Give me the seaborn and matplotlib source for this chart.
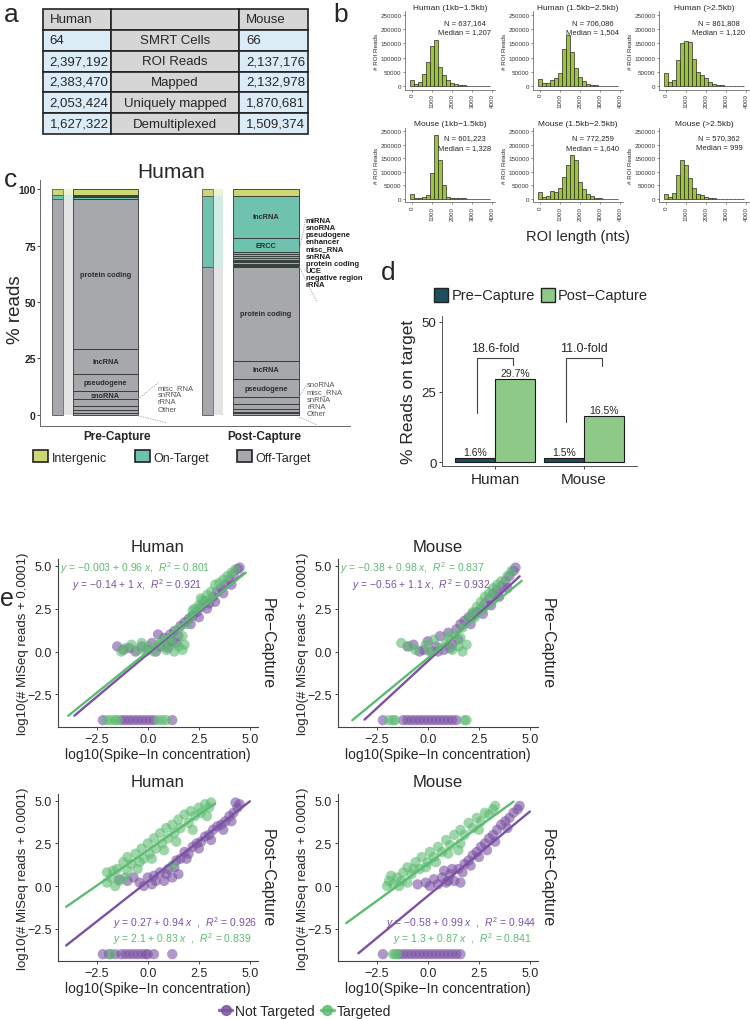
import matplotlib.pyplot as plt
import numpy as np
import pandas as pd
import seaborn as sns
from matplotlib.patches import Patch
from matplotlib.lines import Line2D

sns.set_theme(style="ticks")
plt.rcParams['font.family'] = ['Liberation Sans', 'DejaVu Sans']
plt.rcParams['mathtext.fontset'] = 'custom'
plt.rcParams['mathtext.it'] = 'Liberation Sans:italic'
plt.rcParams['mathtext.rm'] = 'Liberation Sans'

#### data

# a - summary table
tbl_steps = ["SMRT Cells", "ROI Reads", "Mapped", "Uniquely mapped", "Demultiplexed"]
tbl_human = ["64", "2,397,192", "2,383,470", "2,053,424", "1,627,322"]
tbl_mouse = ["66", "2,137,176", "2,132,978", "1,870,681", "1,509,374"]

# b - ROI length histograms (bin centres, counts)
roi_bins = [0, 200, 400, 600, 800, 1000, 1200, 1400, 1600, 1800,
            2000, 2200, 2400, 2600, 2800, 3000, 3200, 3400, 3600, 3800]
roi_titles = ["Human (1kb\u22121.5kb)", "Human (1.5kb\u22122.5kb)", "Human (>2.5kb)",
              "Mouse (1kb\u22121.5kb)", "Mouse (1.5kb\u22122.5kb)", "Mouse (>2.5kb)"]
roi_n = ["637,164", "706,086", "861,808", "601,223", "772,259", "570,362"]
roi_median = ["1,207", "1,504", "1,120", "1,328", "1,640", "999"]
roi_h1 = [20000, 6000, 15000, 42000, 85000, 142000, 163000, 66000, 40000, 22000,
          12000, 7000, 4000, 2500, 1500, 1000, 600, 400, 200, 100]
roi_h2 = [26000, 9000, 9000, 20000, 28000, 45000, 130000, 180000, 120000, 62000,
          30000, 16000, 8000, 4000, 2500, 1500, 800, 500, 300, 200]
roi_h3 = [46000, 15000, 22000, 90000, 152000, 160000, 155000, 95000, 48000, 40000,
          28000, 14000, 7000, 3500, 2000, 1200, 700, 400, 200, 100]
roi_m1 = [18000, 5000, 5000, 6000, 16000, 95000, 235000, 145000, 50000, 8000,
          3000, 2000, 2500, 2000, 1200, 700, 400, 200, 100, 50]
roi_m2 = [24000, 8000, 12000, 30000, 26000, 40000, 82000, 125000, 162000, 145000,
          62000, 35000, 20000, 10000, 5000, 2500, 1200, 600, 300, 200]
roi_m3 = [18000, 7000, 22000, 90000, 142000, 125000, 76000, 40000, 20000, 14000,
          8000, 5000, 3000, 1500, 800, 500, 300, 200, 100, 50]

# c - read composition, Human (% reads)
c_pre_thin = [95.7, 1.6, 2.7]      # off-target, on-target, intergenic
c_post_thin = [65.7, 31.3, 3.0]
c_pre_off_names = ["Other", "rRNA", "snRNA", "misc_RNA", "snoRNA", "pseudogene", "lncRNA", "protein coding"]
c_pre_off_vals = [0.9, 1.3, 1.9, 2.8, 3.6, 7.7, 10.8, 66.7]
c_pre_on_vals = [0.6, 0.5, 0.5]
c_post_off_names = ["Other", "rRNA", "snRNA", "misc_RNA", "snoRNA", "pseudogene", "lncRNA", "protein coding"]
c_post_off_vals = [0.8, 0.7, 1.2, 2.2, 2.9, 8.0, 8.2, 41.7]
c_post_on_names = ["rRNA", "negative region", "UCE", "protein coding", "snRNA", "misc_RNA",
                   "enhancer", "pseudogene", "snoRNA", "miRNA", "ERCC", "lncRNA"]
c_post_on_vals = [0.3, 0.4, 0.5, 0.7, 0.5, 0.6, 0.8, 0.9, 0.8, 0.8, 6.3, 18.7]

# d - reads on target
d_species = ["Human", "Mouse"]
d_pre = [1.6, 1.5]
d_post = [29.7, 16.5]
d_fold = ["18.6-fold", "11.0-fold"]
d_br_top = [37.1, 37.1]
d_br_left = [17.5, 14.3]
d_br_right = [34.6, 34.3]

# e - ERCC spike-ins (log10 conc, log10 reads + 0.0001)
hp_nt = [(-2.2, -4), (-1.3, -4), (-1.1, -4), (-0.9, -4), (-0.7, -4), (-0.5, -4), (-0.3, -4), (-0.1, -4),
         (0.1, -4), (0.3, -4), (1.2, -4),
         (-1.5, 0.3), (-1.2, 0.1), (-0.9, 0.2), (-0.6, 0.0), (-0.3, 0.3), (0.0, 0.1), (0.2, 0.5), (0.4, 0.0),
         (0.5, 1.0), (0.6, 0.3), (0.8, 0.8), (1.0, 0.2), (1.1, 1.0), (1.2, 0.6), (1.3, 1.2), (1.5, 0.9),
         (1.6, 1.5), (1.8, 1.7), (2.0, 1.9), (2.2, 2.1), (2.4, 2.3), (2.6, 2.6), (2.8, 2.9), (3.0, 2.8),
         (3.2, 3.2), (3.4, 3.5), (3.6, 3.7), (3.8, 3.9), (4.0, 4.2), (4.2, 4.5), (4.4, 4.8), (4.5, 4.9),
         (0.9, 0.4), (1.4, 0.5), (2.1, 1.6), (2.5, 2.0), (2.9, 2.5), (3.3, 2.9), (3.7, 3.4), (4.1, 3.9)]
hp_t = [(-2.0, -4), (-1.8, -4), (-1.6, -4), (-1.5, -4), (0.5, -4), (0.7, -4), (0.9, -4),
        (-1.1, 0.2), (-0.8, 0.4), (-0.5, 0.1), (-0.3, 0.5), (0.0, 0.3), (0.3, 0.0), (0.5, 0.4), (0.7, 0.7),
        (0.9, 0.1), (1.1, 0.5), (1.3, 0.0), (1.5, 0.3), (1.5, 1.3), (1.7, 0.1), (1.7, 0.9), (1.9, 1.6),
        (2.1, 2.0), (2.3, 2.5), (2.5, 2.7), (2.7, 3.0), (2.9, 3.3), (3.1, 3.5), (3.3, 3.9), (3.5, 4.0),
        (3.7, 4.2), (3.9, 4.4), (4.1, 4.6), (4.3, 4.8),
        (-1.3, 0.0), (-0.1, 0.0), (0.8, 0.3), (1.2, 0.8), (1.8, 0.4), (2.2, 2.4), (2.6, 3.1), (3.0, 3.0)]
mp_nt = [(-2.2, -4), (-1.2, -4), (-1.0, -4), (-0.8, -4), (-0.6, -4), (-0.4, -4), (-0.2, -4), (0.0, -4),
         (0.2, -4), (0.4, -4), (0.6, -4), (0.8, -4), (1.0, -4), (1.2, -4), (1.4, -4),
         (-1.0, 0.3), (-0.7, 0.4), (-0.4, 0.0), (-0.2, 0.1), (0.0, 0.6), (0.2, 0.0), (0.4, 0.3), (0.6, 0.9),
         (0.8, 0.1), (1.0, 1.1), (1.2, 0.4), (1.4, 1.3), (1.6, 1.6), (1.8, 1.8), (2.0, 2.0), (2.2, 2.2),
         (2.4, 2.3), (2.6, 2.5), (2.8, 2.8), (3.0, 3.1), (3.2, 3.4), (3.4, 3.6), (3.6, 3.8), (3.8, 4.1),
         (4.0, 4.4), (4.2, 4.7), (4.3, 4.9),
         (0.5, 0.0), (1.1, 0.2), (1.5, 0.7), (2.1, 1.6), (2.7, 2.2), (3.1, 2.7), (3.5, 3.2), (3.9, 3.7)]
mp_t = [(-1.9, -4), (-1.7, -4), (-1.6, -4), (1.8, -4), (1.9, -4),
        (-1.3, 0.5), (-0.6, 0.1), (-0.1, 0.4), (0.3, 0.7), (0.6, 0.2), (0.9, 0.5), (1.2, 0.1), (1.3, 1.0),
        (1.5, 0.3), (1.7, 0.0), (1.7, 1.4), (1.9, 0.4), (2.0, 1.9), (2.2, 2.3), (2.4, 2.6), (2.6, 2.9),
        (2.8, 3.2), (3.0, 3.4), (3.2, 3.7), (3.4, 3.9), (3.6, 4.1), (3.9, 4.4), (4.1, 4.7),
        (-0.9, 0.3), (0.1, 0.0), (1.0, 0.9), (1.6, 0.8), (2.3, 2.0), (2.7, 2.5), (3.3, 3.2)]
hq_nt = [(-2.2, -4), (-1.9, -4), (-1.6, -4), (-1.3, -4), (-1.1, -4), (-0.9, -4), (-0.7, -4), (-0.5, -4),
         (-0.3, -4), (-0.1, -4), (0.0, -4), (0.3, -4), (1.2, -4),
         (-1.4, 0.4), (-1.0, 0.3), (-0.7, 0.5), (-0.4, 0.2), (-0.2, 0.0), (0.0, 0.5), (0.2, 0.1), (0.4, 0.3),
         (0.6, 0.8), (0.8, 0.3), (1.0, 1.0), (1.2, 0.5), (1.4, 1.5), (1.5, 0.7), (1.6, 1.6), (1.8, 2.0),
         (2.0, 1.9), (2.2, 2.3), (2.4, 2.5), (2.6, 2.6), (2.8, 2.9), (3.0, 3.0), (3.2, 3.3), (3.4, 3.5),
         (3.6, 3.6), (3.8, 3.8), (4.0, 4.1), (4.2, 4.3), (4.3, 4.9), (4.4, 4.6), (4.5, 4.8),
         (0.3, 0.6), (0.9, 0.7), (1.3, 1.1), (1.9, 1.6), (2.5, 2.2), (3.1, 2.7), (3.7, 3.3), (4.1, 3.8)]
hq_t = [(-1.8, -4),
        (-2.0, 0.2), (-2.0, 0.8), (-1.8, 0.5), (-1.6, 0.0), (-1.5, 1.0), (-1.4, 0.3), (-1.2, 1.4), (-1.0, 0.9),
        (-1.0, 1.7), (-0.8, 1.3), (-0.6, 1.9), (-0.5, 1.0), (-0.3, 2.2), (-0.2, 1.6), (0.0, 2.5), (0.1, 1.9),
        (0.3, 2.8), (0.4, 2.2), (0.6, 3.1), (0.7, 2.5), (0.9, 3.4), (1.0, 2.8), (1.2, 3.6), (1.2, 1.2),
        (1.3, 3.1), (1.5, 3.9), (1.6, 3.4), (1.8, 4.2), (2.0, 3.7), (2.1, 4.4), (2.3, 4.1), (2.5, 4.6),
        (2.6, 4.3), (2.8, 4.8), (3.0, 4.6), (3.1, 4.9),
        (-1.7, 0.9), (-1.1, 0.5), (-0.4, 1.4), (0.2, 1.6), (0.8, 2.1), (1.4, 2.6), (2.2, 3.3), (2.9, 4.1)]
mq_nt = [(-2.2, -4), (-1.4, -4), (-1.2, -4), (-1.0, -4), (-0.8, -4), (-0.6, -4), (-0.4, -4), (-0.2, -4),
         (0.0, -4), (0.2, -4), (0.4, -4), (0.6, -4), (0.8, -4), (1.0, -4), (1.2, -4), (1.4, -4), (1.6, -4),
         (-0.1, 0.2), (0.1, 0.0), (0.3, 0.4), (0.5, 0.1), (0.7, 0.5), (0.8, 0.9), (0.9, 0.2), (1.1, 0.7),
         (1.2, 1.0), (1.3, 0.3), (1.5, 1.0), (1.6, 0.2), (1.8, 1.3), (2.0, 1.5), (2.2, 1.8), (2.4, 2.0),
         (2.6, 2.3), (2.8, 2.5), (3.0, 2.8), (3.2, 3.0), (3.4, 3.3), (3.6, 3.6), (3.8, 3.8), (4.0, 4.0),
         (4.2, 4.3), (4.4, 4.5), (4.5, 4.7),
         (-0.5, 0.1), (1.0, 0.3), (1.7, 0.8), (2.1, 1.2), (2.5, 1.7), (2.9, 2.1), (3.3, 2.6), (3.9, 3.4)]
mq_t = [(-1.7, -4), (-1.6, -4), (-1.5, -4),
        (-2.0, 0.0), (-1.9, 0.3), (-1.7, 0.1), (-1.5, 0.5), (-1.4, 0.0), (-1.2, 0.8), (-1.0, 0.2), (-1.0, 1.1),
        (-0.8, 0.7), (-0.6, 1.4), (-0.4, 1.0), (-0.3, 1.7), (0.0, 1.4), (0.1, 2.0), (0.3, 1.7), (0.5, 2.3),
        (0.7, 2.0), (0.9, 2.7), (1.1, 2.4), (1.3, 3.0), (1.5, 2.1), (1.6, 3.3), (1.8, 3.0), (2.0, 3.7),
        (2.2, 3.4), (2.4, 4.0), (2.6, 3.8), (2.8, 4.3), (3.0, 4.2), (3.2, 4.5), (3.3, 4.7),
        (-1.8, 0.6), (-1.3, 0.3), (-0.7, 1.0), (-0.1, 1.1), (0.4, 1.4), (1.0, 1.9), (1.6, 2.5), (2.5, 3.3)]
# fits: intercept, slope, R2, x from, x to
fit_hp_nt, fit_hp_t = (-0.14, 1.0, 0.921, -3.6, 4.7), (-0.003, 0.96, 0.801, -3.9, 4.8)
fit_mp_nt, fit_mp_t = (-0.56, 1.1, 0.932, -3.1, 4.5), (-0.38, 0.98, 0.837, -3.7, 4.6)
fit_hq_nt, fit_hq_t = (0.27, 0.94, 0.926, -4.0, 5.0), (2.1, 0.83, 0.839, -4.0, 3.3)
fit_mq_nt, fit_mq_t = (-0.58, 0.99, 0.944, -3.4, 5.0), (1.3, 0.87, 0.841, -4.0, 4.2)

#### figure
W, H = 750, 1020
fig = plt.figure(figsize=(7.5, 10.2), dpi=100)

def box(x0, y0, x1, y1):
    return [x0 / W, 1 - y1 / H, (x1 - x0) / W, (y1 - y0) / H]

def letter(x, y, s, size=19):
    fig.text(x / W, 1 - y / H, s, fontsize=size, va='baseline', ha='left')

letter(4, 22, "a"); letter(333, 22, "b"); letter(4, 187, "c"); letter(381, 280, "d")
letter(0, 606, "e", 18)

# ---- a
axa = fig.add_axes(box(43, 10, 308, 135))
axa.axis('off')
rows = [["Human", "", "Mouse"]] + [[h, s, m] for h, s, m in zip(tbl_human, tbl_steps, tbl_mouse)]
grey, blue = "#d6d6d6", "#dcecf7"
colours = [[grey, grey, grey]] + [[blue, grey, blue] for _ in tbl_steps]
tab = axa.table(cellText=rows, cellColours=colours, colWidths=[68, 128, 69],
                cellLoc='left', bbox=[0, 0, 1, 1])
tab.auto_set_font_size(False)
tab.set_fontsize(9.5)
for (r, c), cell in tab.get_celld().items():
    cell.set_linewidth(1.2)
    cell.set_edgecolor("#222222")
    if c == 1:
        cell._loc = 'center'
        cell.get_text().set_horizontalalignment('center')

# ---- b
roi_counts = [roi_h1, roi_h2, roi_h3, roi_m1, roi_m2, roi_m3]
cols = [(405, 495), (533, 623), (659, 749)]
rowsy = [(12.4, 90.5), (128.6, 203.4)]
for i, counts in enumerate(roi_counts):
    x0, x1 = cols[i % 3]
    y0, y1 = rowsy[i // 3]
    ax = fig.add_axes(box(x0, y0, x1, y1))
    sns.histplot(x=roi_bins, weights=counts, binwidth=200, binrange=(-100, 3900),
                 color="#9cc53b", edgecolor="#2a2a2a", linewidth=0.5, alpha=1, ax=ax)
    ax.set_xlim(-350, 4150)
    ax.set_ylim(-12500, 262500)
    ax.set_xticks([0, 1000, 2000, 3000, 4000])
    ax.set_yticks([0, 50000, 100000, 150000, 200000, 250000])
    ax.tick_params(axis='x', labelrotation=90)
    ax.tick_params(labelsize=4.5, length=1.5, width=0.4, pad=1, colors='#333333')
    ax.set_xlabel("")
    ax.set_ylabel("# ROI Reads", fontsize=4.5, labelpad=1)
    ax.set_title(roi_titles[i], fontsize=6, pad=2)
    ax.text(2650, 225000, f"N = {roi_n[i]}", ha='center', va='center', fontsize=5.5)
    ax.text(2650, 190000, f"Median = {roi_median[i]}", ha='center', va='center', fontsize=5.5)
    sns.despine(ax=ax)
    for s in ['left', 'bottom']:
        ax.spines[s].set_linewidth(0.5)
        ax.spines[s].set_color('#555555')
fig.text(578 / W, 1 - 237 / H, "ROI length (nts)", ha='center', va='center', fontsize=10.5)

# ---- c
c_inter, c_on, c_off = "#cbd874", "#6fc3ae", "#a6a8ab"
axc = fig.add_axes(box(40, 181, 350, 427))
axc.set_xlim(0, 31)
axc.set_ylim(-4.9, 104)

def stack(x, width, vals, colors, **kw):
    bottoms = np.concatenate([[0], np.cumsum(vals)[:-1]])
    axc.bar([x] * len(vals), vals, width, bottom=bottoms, color=colors, **kw)

thin_cols = [c_off, c_on, c_inter]
pre_x, post_x = 6.55, 22.6
for xt, xb, xw, wide_w, thin, off_v, on_v in [
        (1.75, 2.8, pre_x, 6.5, c_pre_thin, c_pre_off_vals, c_pre_on_vals),
        (16.75, 17.8, post_x, 6.6, c_post_thin, c_post_off_vals, c_post_on_vals)]:
    stack(xt, 1.1, thin, thin_cols, edgecolor="#555555", linewidth=0.6)
    stack(xb, 1.0, thin, thin_cols, alpha=0.3, linewidth=0)
    vals = off_v + on_v + [thin[2]]
    colors = [c_off] * len(off_v) + [c_on] * len(on_v) + [c_inter]
    stack(xw, wide_w, vals, colors, edgecolor="#333333", linewidth=0.6)

def seg_labels(x, names, vals, base):
    bottoms = base + np.concatenate([[0], np.cumsum(vals)[:-1]])
    for n, v, b in zip(names, vals, bottoms):
        if v >= 3.5:
            axc.text(x, b + v / 2, n, ha='center', va='center', fontsize=5.3,
                     fontweight='bold', color='#2b2b2b')

seg_labels(pre_x, c_pre_off_names, c_pre_off_vals, 0)
seg_labels(post_x, c_post_off_names, c_post_off_vals, 0)
seg_labels(post_x, c_post_on_names, c_post_on_vals, sum(c_post_off_vals))

def side_list(x, ytop, names, bold):
    axc.text(x, ytop, "\n".join(names), ha='left', va='top', fontsize=5.5, linespacing=1.02,
             fontweight='bold' if bold else 'normal', color='#1e1e1e' if bold else '#555555')

side_list(11.8, 13.6, [n for n, v in zip(c_pre_off_names, c_pre_off_vals) if v < 3.5][::-1], False)
side_list(26.7, 14.8, [n for n, v in zip(c_post_off_names, c_post_off_vals) if v < 3.5][::-1], False)
side_list(26.6, 87.6, [n for n, v in zip(c_post_on_names, c_post_on_vals) if v < 3.5][::-1], True)
guide = dict(color='#999999', lw=0.6, ls=(0, (1.5, 1.5)), clip_on=False)
axc.plot([9.8, 11.9], [7.0, 14.6], **guide)
axc.plot([9.8, 12.7], [-0.4, -3.5], **guide)
axc.plot([25.9, 26.6], [72.0, 87.6], **guide)
axc.plot([25.9, 27.7], [65.7, 50.0], **guide)
axc.plot([25.9, 26.7], [7.9, 13.7], **guide)
axc.plot([25.9, 27.7], [-0.9, -4.4], **guide)

axc.set_xticks([7.75, 22.4])
axc.set_xticklabels(["Pre-Capture", "Post-Capture"], fontweight='bold', fontsize=8.5)
axc.set_yticks([0, 25, 50, 75, 100])
axc.set_yticklabels(["0", "25", "50", "75", "100"], fontweight='bold', fontsize=7.5)
axc.tick_params(axis='x', length=0, pad=3)
axc.tick_params(axis='y', length=2, width=0.6, pad=1)
axc.set_ylabel("% reads", fontsize=13.5)
axc.yaxis.set_label_coords(-0.05, 0.476)
sns.despine(ax=axc)
for s in ['left', 'bottom']:
    axc.spines[s].set_linewidth(0.7)
    axc.spines[s].set_color('#666666')
fig.text(171 / W, 1 - 173 / H, "Human", ha='center', va='center', fontsize=15)
fig.legend(handles=[Patch(facecolor=c, edgecolor='#222222', lw=1.2, label=l)
                    for c, l in zip([c_inter, c_on, c_off], ["Intergenic", "On-Target", "Off-Target"])],
           loc='center', bbox_to_anchor=(172 / W, 1 - 458 / H), ncol=3, frameon=False, fontsize=9,
           handlelength=1.2, handleheight=1.1, handletextpad=0.3, columnspacing=2.2)

# ---- d
d_cols = ["#1d4f61", "#8fc98a"]
axd = fig.add_axes(box(442, 317, 637, 467))
df_d = pd.DataFrame({"species": d_species * 2,
                     "stage": ["Pre-Capture"] * 2 + ["Post-Capture"] * 2,
                     "pct": d_pre + d_post})
sns.barplot(data=df_d, x="species", y="pct", hue="stage", hue_order=["Pre-Capture", "Post-Capture"],
            palette=d_cols, width=0.9, edgecolor="#1a1a1a", linewidth=0.8, saturation=1,
            legend=False, ax=axd)
for cont in axd.containers:
    axd.bar_label(cont, labels=[f"{v:.1f}%" for v in cont.datavalues], fontsize=7.5, padding=0.5)
for i, (lab, top, yl, yr) in enumerate(zip(d_fold, d_br_top, d_br_left, d_br_right)):
    axd.plot([i - 0.2, i - 0.2, i + 0.2, i + 0.2], [yl, top, top, yr], color='#444444', lw=0.8)
    axd.text(i, top + 1.3, lab, ha='center', va='bottom', fontsize=9)
axd.set_xlim(-0.6, 1.6)
axd.set_ylim(-1.4, 52)
axd.set_yticks([0, 25, 50])
axd.set_xlabel("")
axd.set_ylabel("% Reads on target", fontsize=12.5, labelpad=4)
axd.tick_params(axis='x', labelsize=11, length=2, width=0.6, pad=2)
axd.tick_params(axis='y', labelsize=9.5, length=2, width=0.6, pad=2)
sns.despine(ax=axd)
for s in ['left', 'bottom']:
    axd.spines[s].set_linewidth(0.7)
    axd.spines[s].set_color('#555555')
fig.legend(handles=[Patch(facecolor=c, edgecolor='#222222', lw=1, label=l)
                    for c, l in zip(d_cols, ["Pre\u2212Capture", "Post\u2212Capture"])],
           loc='center', bbox_to_anchor=(541 / W, 1 - 296 / H), ncol=2, frameon=False, fontsize=10.5,
           handlelength=1.0, handleheight=1.1, handletextpad=0.2, columnspacing=0.4)

# ---- e
purple, green = "#7b52a3", "#5dbb72"
e_panels = [
    ("Human", "Pre\u2212Capture", hp_nt, hp_t, fit_hp_nt, fit_hp_t, (58, 560, 258, 728), True),
    ("Mouse", "Pre\u2212Capture", mp_nt, mp_t, fit_mp_nt, fit_mp_t, (338, 560, 538, 728), True),
    ("Human", "Post\u2212Capture", hq_nt, hq_t, fit_hq_nt, fit_hq_t, (58, 795, 258, 962), False),
    ("Mouse", "Post\u2212Capture", mq_nt, mq_t, fit_mq_nt, fit_mq_t, (338, 795, 538, 962), False),
]

def eq(f, sep):
    a = f"{f[0]:g}".replace("-", "\u2212")
    return f"$y$ = {a} + {f[1]:g} $x${sep}$R^2$ = {f[2]:.3f}"

for title, strip, nt, tg, fnt, ftg, pos, top in e_panels:
    ax = fig.add_axes(box(*pos))
    df = pd.DataFrame(nt + tg, columns=["conc", "reads"])
    df["group"] = ["Not Targeted"] * len(nt) + ["Targeted"] * len(tg)
    sns.scatterplot(data=df, x="conc", y="reads", hue="group", palette=[purple, green],
                    s=55, alpha=0.6, linewidth=0, legend=False, ax=ax)
    for f, c in [(fnt, purple), (ftg, green)]:
        xs = np.array([f[3], f[4]])
        ax.plot(xs, f[0] + f[1] * xs, color=c, lw=1.7)
    ax.set_xlim(-4.4, 5.4)
    ax.set_ylim(-4.4, 5.4)
    ax.set_xticks([-2.5, 0, 2.5, 5])
    ax.set_yticks([-2.5, 0, 2.5, 5])
    ax.tick_params(labelsize=9, length=2.5, width=0.6, pad=2)
    ax.set_xlabel("log10(Spike\u2212In concentration)", fontsize=10, labelpad=1)
    ax.set_ylabel("log10(# MiSeq reads + 0.0001)", fontsize=9.5)
    ax.yaxis.set_label_coords(-0.143, 0.5)
    ax.set_title(title, fontsize=12, pad=6)
    ax.text(1.045, 0.5, strip, transform=ax.transAxes, rotation=270, ha='center', va='center', fontsize=11.5)
    if top:
        ax.text(-4.3, 4.95, eq(ftg, ",  "), color=green, fontsize=7.5, va='center', ha='left')
        ax.text(-3.7, 3.95, eq(fnt, ",  "), color=purple, fontsize=7.5, va='center', ha='left')
    else:
        ax.text(5.34, -2.1, eq(fnt, "  ,  "), color=purple, fontsize=7.5, va='center', ha='right')
        ax.text(5.1, -3.05, eq(ftg, "  ,  "), color=green, fontsize=7.5, va='center', ha='right')
    sns.despine(ax=ax)
    for s in ['left', 'bottom']:
        ax.spines[s].set_linewidth(0.8)
        ax.spines[s].set_color('#444444')

fig.legend(handles=[Line2D([0], [0], color=c, marker='o', markersize=7, lw=2.5, alpha=0.85, label=l)
                    for c, l in zip([purple, green], ["Not Targeted", "Targeted"])],
           loc='center', bbox_to_anchor=(305 / W, 1 - 1012 / H), ncol=2, frameon=False, fontsize=10,
           handlelength=0.9, handletextpad=0.2, columnspacing=0.5)

fig.savefig("out.png", dpi=100)
